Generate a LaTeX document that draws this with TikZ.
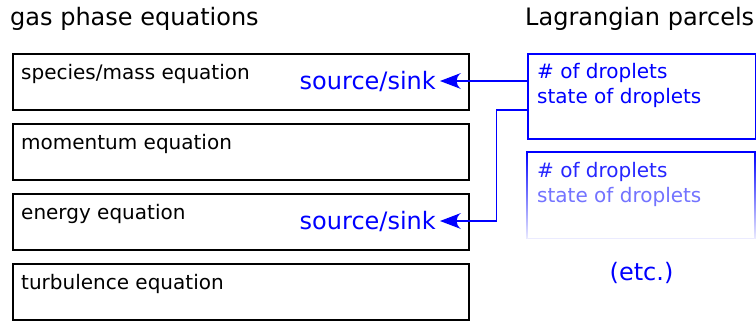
\documentclass[tikz,border=0pt]{standalone}
\usepackage{fontspec}
\setmainfont{DejaVu Sans}
\begin{document}
\begin{tikzpicture}[x=1pt,y=-1pt,
  eqbox/.style={draw=black, line width=1.8pt, minimum width=456pt, minimum height=56pt, inner sep=0pt, anchor=north west},
  eqtext/.style={font=\fontsize{20}{24}\selectfont, anchor=base west, inner sep=0pt},
  title/.style={font=\fontsize{24}{28}\selectfont, anchor=base west, inner sep=0pt},
  srctext/.style={font=\fontsize{24}{28}\selectfont, text=blue, anchor=east, inner xsep=4pt, inner ysep=0pt},
  ptext/.style={font=\fontsize{20}{24}\selectfont, anchor=base west, inner sep=0pt},
  pbox/.style={draw=blue, line width=1.8pt, minimum width=228pt, minimum height=85pt, inner sep=0pt, anchor=north west},
  conn/.style={blue, line width=1.8pt},
  head/.style={fill=blue, draw=none}]
\useasboundingbox[fill=white] (0,0) rectangle (756,322);

% titles
\node[title] (t1) at (10,25) {gas phase equations};
\node[title] (t2) at (525,25) {Lagrangian parcels};

% gas phase equation boxes
\node[eqbox] (b1) at (12,53) {};
\node[eqbox] (b2) at (12,123) {};
\node[eqbox] (b3) at (12,193) {};
\node[eqbox] (b4) at (12,263) {};
\node[eqtext] (l1) at (21,79) {species/mass equation};
\node[eqtext] (l2) at (21,149) {momentum equation};
\node[eqtext] (l3) at (21,219) {energy equation};
\node[eqtext] (l4) at (21,289) {turbulence equation};

% source/sink labels
\node[srctext] (s1) at (440,81) {source/sink};
\node[srctext] (s3) at (440,221) {source/sink};

% parcel box 1
\node[pbox] (p1) at (527,53) {};
\node[ptext, text=blue] (p1a) at (537,78.5) {\# of droplets};
\node[ptext, text=blue] (p1b) at (537,103.5) {state of droplets};

% parcel box 2 (fading)
\node[minimum width=228pt, minimum height=86pt, inner sep=0pt, anchor=north west] (p2) at (527,152) {};
\draw[blue, line width=1.8pt] ([xshift=-0.9pt]p2.north west) -- ([xshift=0.9pt]p2.north east);
\shade[top color=blue, bottom color=blue!8] ([xshift=-0.9pt]p2.north west) rectangle ([xshift=0.9pt]p2.south west);
\shade[top color=blue, bottom color=blue!8] ([xshift=-0.9pt]p2.north east) rectangle ([xshift=0.9pt]p2.south east);
\draw[blue!8, line width=1.8pt] (p2.south west) -- (p2.south east);
\node[ptext, text=blue!85] (p2a) at (537,177) {\# of droplets};
\node[ptext, text=blue!55] (p2b) at (537,202) {state of droplets};

\node[font=\fontsize{24}{28}\selectfont, text=blue, anchor=base, inner sep=0pt] (etc) at (641.5,280) {(etc.)};

% connectors
\draw[conn] (p1.west |- s1.east) -- ([xshift=14pt]s1.east);
\fill[head] (s1.east) -- ([xshift=21pt,yshift=8pt]s1.east) .. controls ([xshift=15pt,yshift=3pt]s1.east) and ([xshift=15pt,yshift=-3pt]s1.east) .. ([xshift=21pt,yshift=-8pt]s1.east) -- cycle;
\coordinate (c2) at ([yshift=30pt]p1.south west);
\coordinate (c3) at ([xshift=-30.5pt]c2);
\draw[conn] (c2) -- (c3) |- ([xshift=14pt]s3.east);
\fill[head] (s3.east) -- ([xshift=21pt,yshift=8pt]s3.east) .. controls ([xshift=15pt,yshift=3pt]s3.east) and ([xshift=15pt,yshift=-3pt]s3.east) .. ([xshift=21pt,yshift=-8pt]s3.east) -- cycle;
\end{tikzpicture}
\end{document}
